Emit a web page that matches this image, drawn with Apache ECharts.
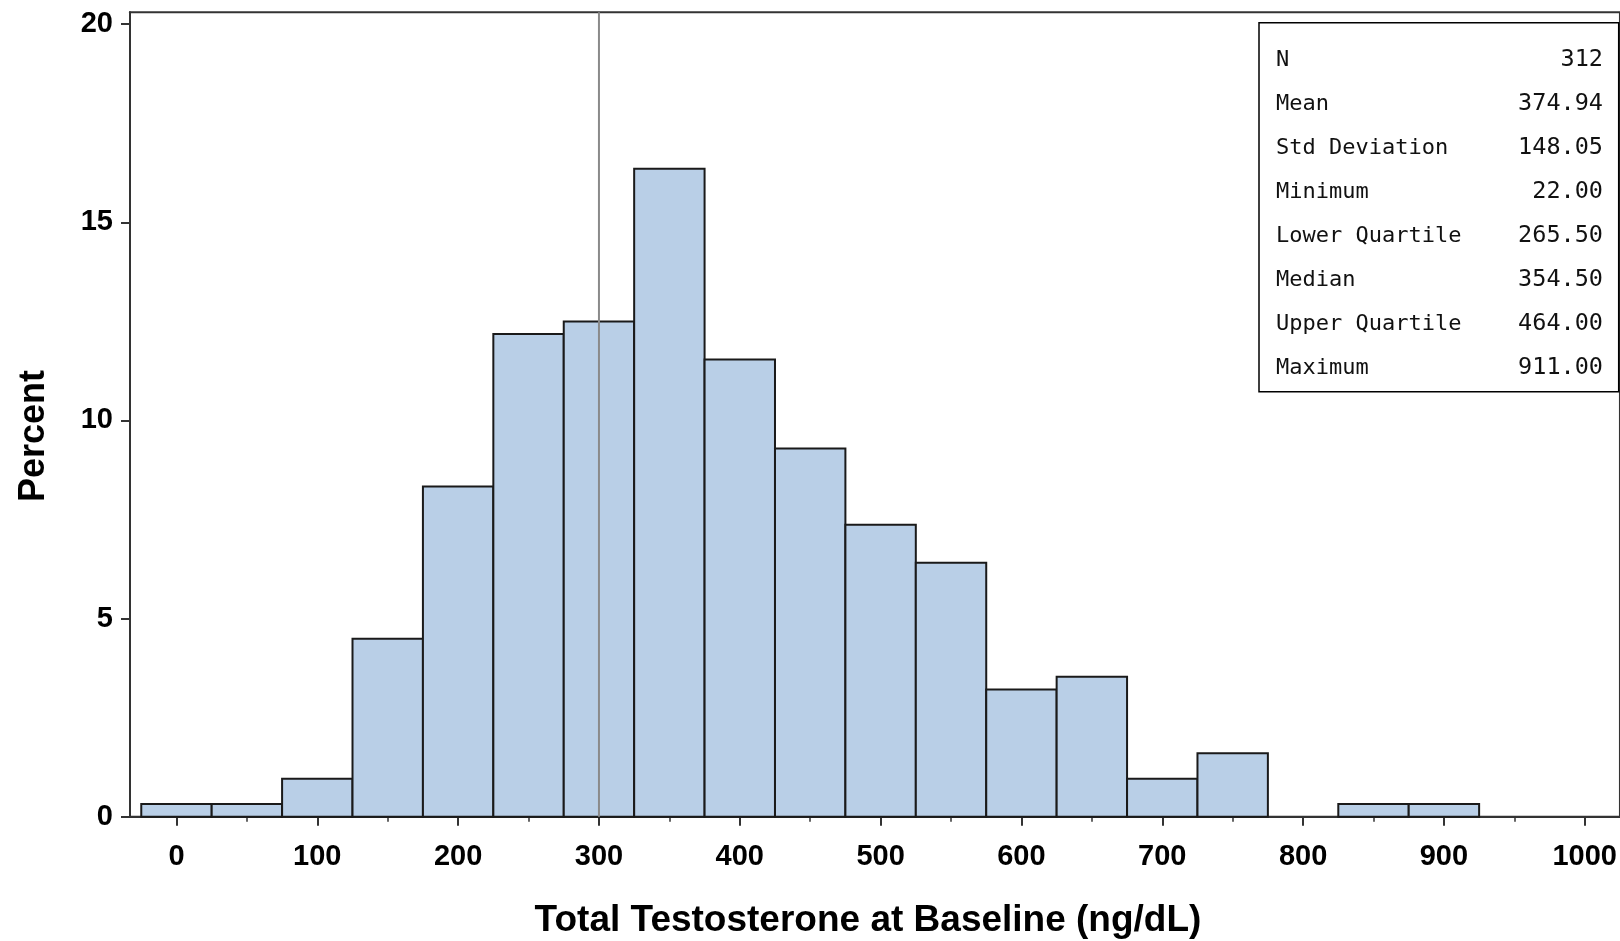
<!DOCTYPE html>
<html>
<head>
<meta charset="utf-8">
<script src="https://cdn.jsdelivr.net/npm/echarts@6/dist/echarts.min.js"></script>
<style>
  html, body { margin: 0; padding: 0; background: #fff; }
  #chart { width: 1620px; height: 941px; }
</style>
</head>
<body>
<div id="chart"></div>
<script>
// ---- data ----
const binCenters = [0, 50, 100, 150, 200, 250, 300, 350, 400, 450, 500, 550, 600, 650, 700, 750, 800, 850, 900];
const percents   = [0.32, 0.32, 0.96, 4.49, 8.33, 12.18, 12.50, 16.35, 11.54, 9.29, 7.37, 6.41, 3.21, 3.53, 0.96, 1.60, 0, 0.32, 0.32];
const binWidth = 50;
const xTicks = [0, 100, 200, 300, 400, 500, 600, 700, 800, 900, 1000];
const xMinorTicks = [50, 150, 250, 350, 450, 550, 650, 750, 850, 950];
const yTicks = [0, 5, 10, 15, 20];
const refLine = 300;
const statLabels = ['N', 'Mean', 'Std Deviation', 'Minimum', 'Lower Quartile', 'Median', 'Upper Quartile', 'Maximum'];
const statValues = ['312', '374.94', '148.05', '22.00', '265.50', '354.50', '464.00', '911.00'];
const xTitle = 'Total Testosterone at Baseline (ng/dL)';
const yTitle = 'Percent';

// ---- chart ----
const chart = echarts.init(document.getElementById('chart'), null, { renderer: 'canvas' });
const X_MIN = -33, X_MAX = 1025, Y_MIN = 0, Y_MAX = 20.3;
const labelFont = { fontFamily: '"Liberation Sans", Arial, sans-serif', fontWeight: 'bold', fontSize: 29, color: '#000' };
const axisColor = '#333';
const plainNum = v => String(v);

const histData = binCenters.map((c, i) => [c, percents[i]]);

const statGraphics = [{
  type: 'rect', z: 100,
  shape: { x: 1259, y: 22.7, width: 359.7, height: 369 },
  style: { fill: '#fff', stroke: '#000', lineWidth: 1.5 }
}];
statLabels.forEach((lab, i) => {
  const y = 60.3 + i * 44;
  statGraphics.push({
    type: 'text', z: 101, x: 1276, y: y,
    style: { text: lab, font: '22px "DejaVu Sans Mono", monospace', fill: '#111', textAlign: 'left', textVerticalAlign: 'middle' }
  });
  statGraphics.push({
    type: 'text', z: 101, x: 1603, y: y,
    style: { text: statValues[i], font: '23.5px "DejaVu Sans Mono", monospace', fill: '#111', textAlign: 'right', textVerticalAlign: 'middle' }
  });
});

const option = {
  animation: false,
  backgroundColor: '#fff',
  grid: {
    left: 130, top: 12.3, width: 1491, height: 804.4,
    show: true, borderColor: axisColor, borderWidth: 2, backgroundColor: 'transparent'
  },
  xAxis: [{
    type: 'value', min: X_MIN, max: X_MAX, position: 'bottom',
    axisLine: { show: true, onZero: false, lineStyle: { color: axisColor, width: 2 } },
    axisTick: { show: true, customValues: xTicks, length: 9, lineStyle: { color: axisColor, width: 2 } },
    axisLabel: Object.assign({ show: true, customValues: xTicks, margin: 26, formatter: plainNum }, labelFont),
    splitLine: { show: false }
  }, {
    type: 'value', min: X_MIN, max: X_MAX, position: 'bottom', offset: 0,
    axisLine: { show: false },
    axisTick: { show: true, customValues: xMinorTicks, length: 5, lineStyle: { color: axisColor, width: 1.5 } },
    axisLabel: { show: false },
    splitLine: { show: false }
  }],
  yAxis: {
    type: 'value', min: Y_MIN, max: Y_MAX,
    axisLine: { show: true, onZero: false, lineStyle: { color: axisColor, width: 2 } },
    axisTick: { show: true, customValues: yTicks, length: 9, lineStyle: { color: axisColor, width: 2 } },
    axisLabel: Object.assign({ show: true, customValues: yTicks, margin: 17, formatter: plainNum }, labelFont),
    splitLine: { show: false }
  },
  series: [{
    type: 'custom',
    xAxisIndex: 0,
    data: histData,
    renderItem: function (params, api) {
      const c = api.value(0), v = api.value(1);
      if (!v) return null;
      const p0 = api.coord([c - binWidth / 2, v]);
      const p1 = api.coord([c + binWidth / 2, 0]);
      return {
        type: 'rect',
        shape: { x: p0[0], y: p0[1], width: p1[0] - p0[0], height: p1[1] - p0[1] },
        style: { fill: '#b9cfe7', stroke: '#1a1a1a', lineWidth: 2 }
      };
    },
    z: 2
  }, {
    type: 'line',
    xAxisIndex: 0,
    data: [[refLine, Y_MIN], [refLine, Y_MAX]],
    symbol: 'none',
    lineStyle: { color: '#8a8a8a', width: 2 },
    z: 5,
    silent: true
  }],
  graphic: [
    {
      type: 'text', x: 34.5, y: 436, rotation: Math.PI / 2,
      style: { text: yTitle, font: 'bold 36px "Liberation Sans", Arial, sans-serif', fill: '#000', textAlign: 'center', textVerticalAlign: 'middle' }
    },
    {
      type: 'text', x: 868, y: 921,
      style: { text: xTitle, font: 'bold 37px "Liberation Sans", Arial, sans-serif', fill: '#000', textAlign: 'center', textVerticalAlign: 'middle' }
    }
  ].concat(statGraphics)
};
chart.setOption(option);
</script>
</body>
</html>
